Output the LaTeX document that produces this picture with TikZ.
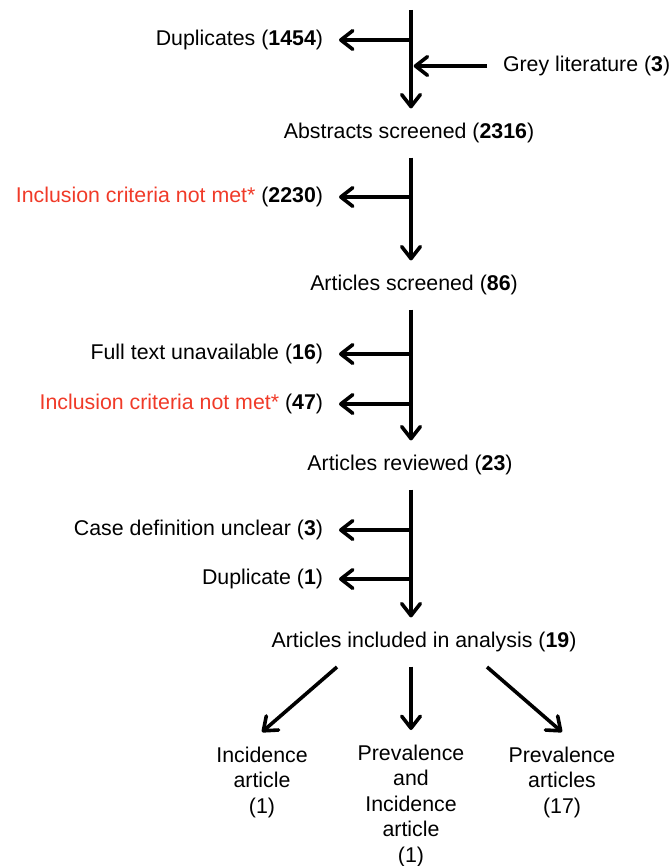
\documentclass[tikz,border=0pt]{standalone}
\usepackage{fontspec}
\setmainfont{Liberation Sans}
\usepackage{xcolor}
\usetikzlibrary{arrows.meta}

\definecolor{critred}{RGB}{240,58,40}

\begin{document}
\begin{tikzpicture}[x=0.75pt, y=-0.75pt,
    flow/.style={line width=2.7pt,
        -{Straight Barb[length=9pt,width=14pt,line join=round,line cap=round]}},
    stage/.style={font=\fontsize{16}{19.2}\selectfont, inner sep=3pt, outer ysep=8pt},
    side/.style={font=\fontsize{16}{19.2}\selectfont, inner sep=0pt, anchor=east, outer xsep=12pt},
    leaf/.style={font=\fontsize{16}{19.2}\selectfont, align=center, anchor=north,
        inner sep=3pt, outer ysep=8pt}]
    \useasboundingbox (0,0) rectangle (671,866);

    % main column
    \coordinate (spine) at (411,0);
    \coordinate (top) at (411,10);
    \node[stage] (abs) at (409,133) {Abstracts screened (\textbf{2316})};
    \node[stage] (scr) at (414,285) {Articles screened (\textbf{86})};
    \node[stage] (rev) at (410,465) {Articles reviewed (\textbf{23})};
    \node[stage] (inc) at (424,642) {Articles included in analysis (\textbf{19})};

    \draw[flow] (top) -- (spine |- abs.north);
    \draw[flow] (spine |- abs.south) -- (spine |- scr.north);
    \draw[flow] (spine |- scr.south) -- (spine |- rev.north);
    \draw[flow] (spine |- rev.south) -- (spine |- inc.north);

    % exclusions
    \node[side] (dup) at (339,40) {Duplicates (\textbf{1454})};
    \node[side] (excl1) at (339,197) {\textcolor{critred}{Inclusion criteria not met*} (\textbf{2230})};
    \node[side] (notext) at (339,354) {Full text unavailable (\textbf{16})};
    \node[side] (excl2) at (339,404) {\textcolor{critred}{Inclusion criteria not met*} (\textbf{47})};
    \node[side] (unclear) at (339,530) {Case definition unclear (\textbf{3})};
    \node[side] (dup2) at (339,579) {Duplicate (\textbf{1})};

    \foreach \n in {dup,excl1,notext,excl2,unclear,dup2}
    \draw[flow] (spine |- \n) -- (\n);

    \node[side, anchor=west] (grey) at (487,66) {Grey literature (\textbf{3})};
    \draw[flow, shorten >=2pt] (grey) -- (spine |- grey);

    % split of included articles
    \node[leaf] (incid) at (262,732) {Incidence\\article\\(1)};
    \node[leaf] (both) at (411,730) {Prevalence\\and\\Incidence\\article\\(1)};
    \node[leaf] (prev) at (562,732) {Prevalence\\articles\\(17)};

    \coordinate (fork1) at (337,667);
    \coordinate (fork3) at (487,667);
    \draw[flow] (fork1) -- (incid.north);
    \draw[flow] (spine |- inc.south) -- (both.north);
    \draw[flow] (fork3) -- (prev.north);
\end{tikzpicture}
\end{document}
